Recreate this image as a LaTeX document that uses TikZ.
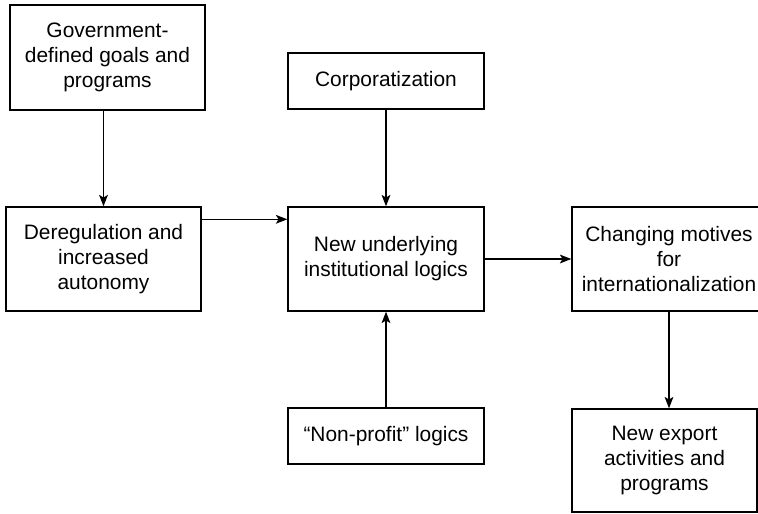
\documentclass[tikz,border=0pt]{standalone}
\usepackage{fontspec}
\setmainfont{Liberation Sans}
\usetikzlibrary{arrows.meta}

\begin{document}
\begin{tikzpicture}[
		x=0.02cm, y=-0.02cm,
		every node/.style={draw, align=center, inner sep=0pt, line width=0.8pt, font=\fontsize{11.9}{14.2}\selectfont},
		tall/.style={minimum width=3.9cm, minimum height=2.08cm},
		flat/.style={minimum width=3.92cm, minimum height=1.12cm},
		link/.style={-{Stealth[length=6.5pt, width=5pt, inset=1.5pt]}, line width=0.8pt}
		]
		
		\useasboundingbox (0,0) rectangle (758,514);
		
		\node[tall, minimum height=2.1cm] (govt) at (107.5,57.5) {Government-\\defined goals and\\programs};
		\node[tall] (dereg) at (103.5,259) {Deregulation and\\increased\\autonomy};
		\node[flat] (corp) at (386,81) {Corporatization};
		\node[tall, minimum width=3.92cm] (logics) at (386,259) {New underlying\\institutional logics};
		\node[flat] (nonprofit) at (386,436) {“Non-profit” logics};
		\node[tall, minimum width=3.88cm] (motives) at (669,259) {Changing motives\\for\\internationalization};
		\node[tall, minimum width=3.7cm, minimum height=2.06cm] (export) at (664.5,460.5) {New export\\activities and\\programs};
		
		\draw[link] (dereg.north |- govt.south) -- (dereg.north);
		\draw[link] ([yshift=-0.26cm]dereg.north east) -- ([yshift=-0.26cm]logics.north west);
		\draw[link] (corp.south) -- (logics.north);
		\draw[link] (nonprofit.north) -- (logics.south);
		\draw[link] (logics.east) -- (motives.west);
		\draw[link] (motives.south) -- (motives.south |- export.north);
		
	\end{tikzpicture}
\end{document}
